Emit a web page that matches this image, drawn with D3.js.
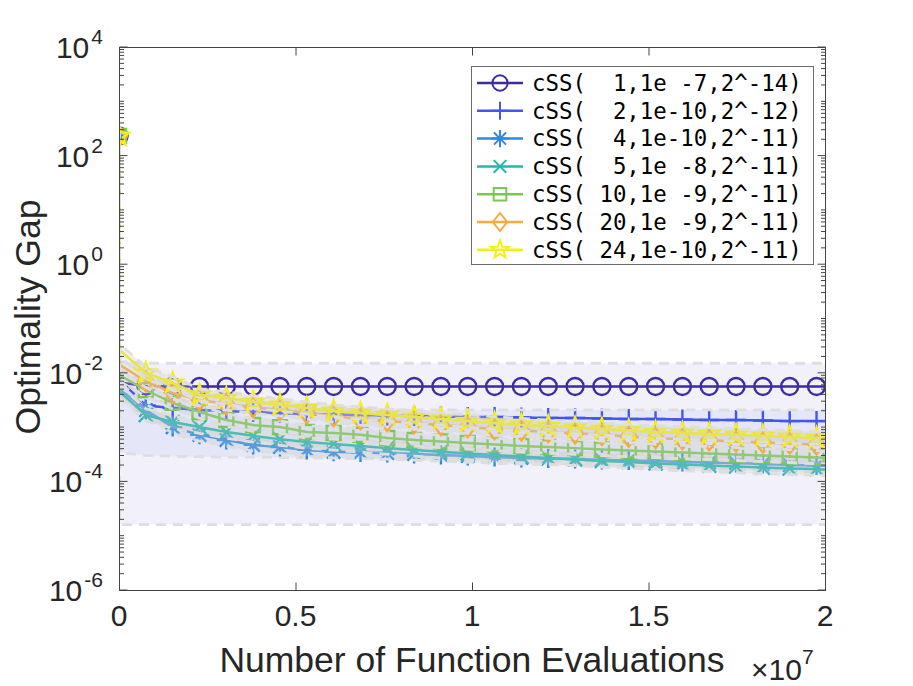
<!DOCTYPE html>
<html>
<head>
<meta charset="utf-8">
<script src="https://cdn.jsdelivr.net/npm/d3@7"></script>
<style>
  body { margin: 0; background: #fff; }
  svg { display: block; }
</style>
</head>
<body>
<svg id="chart" width="913" height="686"></svg>
<script>
// number of function evaluations at each recorded point
let evals = [0, 2e4, 7.6e5, 1.52e6, 2.28e6, 3.04e6, 3.8e6, 4.56e6, 5.32e6, 6.08e6, 6.84e6,
  7.6e6, 8.36e6, 9.12e6, 9.88e6, 1.064e7, 1.14e7, 1.216e7, 1.292e7, 1.368e7, 1.444e7,
  1.52e7, 1.596e7, 1.672e7, 1.748e7, 1.824e7, 1.9e7, 1.976e7, 2e7]

let labels = [
  'cSS(  1,1e -7,2^-14)',
  'cSS(  2,1e-10,2^-12)',
  'cSS(  4,1e-10,2^-11)',
  'cSS(  5,1e -8,2^-11)',
  'cSS( 10,1e -9,2^-11)',
  'cSS( 20,1e -9,2^-11)',
  'cSS( 24,1e-10,2^-11)'
]

// optimality gap, one array per run
let gap1 = [230, 6.6e-3, 5.7e-3, 5.6e-3, 5.6e-3, 5.6e-3, 5.6e-3, 5.6e-3, 5.6e-3, 5.6e-3, 5.6e-3,
  5.6e-3, 5.6e-3, 5.6e-3, 5.6e-3, 5.6e-3, 5.6e-3, 5.6e-3, 5.6e-3, 5.6e-3, 5.6e-3,
  5.6e-3, 5.6e-3, 5.6e-3, 5.6e-3, 5.6e-3, 5.6e-3, 5.6e-3, 5.6e-3]
let gap2 = [230, 7.4e-3, 2.5e-3, 2.25e-3, 2.07e-3, 1.98e-3, 1.9e-3, 1.82e-3, 1.74e-3, 1.7e-3, 1.67e-3,
  1.63e-3, 1.6e-3, 1.56e-3, 1.53e-3, 1.53e-3, 1.5e-3, 1.47e-3, 1.47e-3, 1.44e-3, 1.41e-3,
  1.41e-3, 1.38e-3, 1.35e-3, 1.35e-3, 1.32e-3, 1.29e-3, 1.29e-3, 1.29e-3]
let gap3 = [230, 5.0e-3, 2.07e-3, 1.0e-3, 7.2e-4, 5.8e-4, 4.7e-4, 4.3e-4, 3.8e-4, 3.5e-4, 3.4e-4,
  3.33e-4, 3.2e-4, 3.06e-4, 2.93e-4, 2.81e-4, 2.7e-4, 2.64e-4, 2.59e-4, 2.48e-4, 2.43e-4,
  2.38e-4, 2.28e-4, 2.23e-4, 2.18e-4, 2.09e-4, 2.0e-4, 1.96e-4, 1.94e-4]
let gap4 = [230, 4.5e-3, 1.67e-3, 1.24e-3, 1.0e-3, 8.1e-4, 6.9e-4, 6.0e-4, 5.3e-4, 4.9e-4, 4.5e-4,
  4.1e-4, 3.8e-4, 3.5e-4, 3.27e-4, 3.06e-4, 2.87e-4, 2.7e-4, 2.53e-4, 2.38e-4, 2.28e-4,
  2.14e-4, 2.05e-4, 1.96e-4, 1.88e-4, 1.8e-4, 1.73e-4, 1.69e-4, 1.66e-4]
let gap5 = [230, 9.0e-3, 4.8e-3, 2.8e-3, 1.9e-3, 1.35e-3, 1.09e-3, 1.0e-3, 8.1e-4, 7.8e-4, 7.2e-4,
  6.3e-4, 5.8e-4, 5.45e-4, 5.1e-4, 4.8e-4, 4.5e-4, 4.3e-4, 4.1e-4, 3.87e-4, 3.7e-4,
  3.55e-4, 3.4e-4, 3.27e-4, 3.13e-4, 3.0e-4, 2.87e-4, 2.75e-4, 2.72e-4]
let gap6 = [230, 1.4e-2, 7.0e-3, 4.25e-3, 3.16e-3, 2.67e-3, 2.34e-3, 2.07e-3, 1.82e-3, 1.6e-3, 1.41e-3,
  1.29e-3, 1.19e-3, 1.09e-3, 1.0e-3, 9.2e-4, 8.7e-4, 8.1e-4, 7.7e-4, 7.2e-4, 6.7e-4,
  6.3e-4, 6.0e-4, 5.7e-4, 5.45e-4, 5.2e-4, 5.0e-4, 4.8e-4, 4.75e-4]
let gap7 = [230, 2.6e-2, 1.0e-2, 6.5e-3, 3.9e-3, 3.44e-3, 2.9e-3, 2.55e-3, 2.25e-3, 1.98e-3, 1.82e-3,
  1.67e-3, 1.53e-3, 1.41e-3, 1.29e-3, 1.19e-3, 1.11e-3, 1.04e-3, 9.8e-4, 9.2e-4, 8.7e-4,
  8.1e-4, 7.8e-4, 7.5e-4, 7.2e-4, 6.9e-4, 6.6e-4, 6.3e-4, 6.2e-4]

// shaded spread of the first two runs (wide bands)
let band1Lo = [230, 1.6e-5, 1.6e-5, 1.6e-5, 1.6e-5, 1.6e-5, 1.6e-5, 1.6e-5, 1.6e-5, 1.6e-5, 1.6e-5,
  1.6e-5, 1.6e-5, 1.6e-5, 1.6e-5, 1.6e-5, 1.6e-5, 1.6e-5, 1.6e-5, 1.6e-5, 1.6e-5,
  1.6e-5, 1.6e-5, 1.6e-5, 1.6e-5, 1.6e-5, 1.6e-5, 1.6e-5, 1.6e-5]
let band1Hi = [230, 1.6e-2, 1.5e-2, 1.5e-2, 1.5e-2, 1.5e-2, 1.5e-2, 1.5e-2, 1.5e-2, 1.5e-2, 1.5e-2,
  1.5e-2, 1.5e-2, 1.5e-2, 1.5e-2, 1.5e-2, 1.5e-2, 1.5e-2, 1.5e-2, 1.5e-2, 1.5e-2,
  1.5e-2, 1.5e-2, 1.5e-2, 1.5e-2, 1.5e-2, 1.5e-2, 1.5e-2, 1.5e-2]
let band2Lo = [230, 3.4e-4, 3.0e-4, 2.9e-4, 2.85e-4, 2.8e-4, 2.8e-4, 2.75e-4, 2.7e-4, 2.7e-4, 2.65e-4,
  2.6e-4, 2.6e-4, 2.55e-4, 2.5e-4, 2.5e-4, 2.45e-4, 2.4e-4, 2.4e-4, 2.35e-4, 2.35e-4,
  2.3e-4, 2.3e-4, 2.25e-4, 2.25e-4, 2.2e-4, 2.2e-4, 2.2e-4, 2.2e-4]
let band2Hi = [230, 7.5e-3, 3.4e-3, 2.7e-3, 2.4e-3, 2.25e-3, 2.2e-3, 2.15e-3, 2.1e-3, 2.1e-3, 2.1e-3,
  2.07e-3, 2.07e-3, 2.07e-3, 2.07e-3, 2.07e-3, 2.07e-3, 2.07e-3, 2.07e-3, 2.07e-3, 2.07e-3,
  2.07e-3, 2.07e-3, 2.07e-3, 2.07e-3, 2.07e-3, 2.07e-3, 2.07e-3, 2.07e-3]
// the other runs only get a thin band: factor above / below the mean
let bandSpread = [null, null, 1.3, 1.3, 1.3, 1.3, 1.3]

let yTicks = [1e-6, 1e-4, 1e-2, 1e0, 1e2, 1e4]
let xTicks = [0, 0.5e7, 1e7, 1.5e7, 2e7]
let xTickLabels = ['0', '0.5', '1', '1.5', '2']

let colors = ['#3e2ba6', '#4356ee', '#2b8ae6', '#21b6ae', '#7ac853', '#f7aa3d', '#f4ef18']
let markers = ['o', '+', '*', 'x', 's', 'd', 'p']

let margin = { top: 47, left: 119, right: 88, bottom: 96 }
let width = 913 - margin.left - margin.right
let height = 686 - margin.top - margin.bottom

let svg = d3.select('#chart')
let holder = svg.append('g')
  .attr('transform', `translate(${margin.left},${margin.top})`)

let xScale = d3.scaleLinear().domain([0, 2e7]).range([0, width])
let yScale = d3.scaleLog().domain([1e-6, 1e4]).range([height, 0])

let runs = [gap1, gap2, gap3, gap4, gap5, gap6, gap7]
let bandsLo = [band1Lo, band2Lo]
let bandsHi = [band1Hi, band2Hi]

function markerPath(type) {
  if (type === 'o') return 'M8.5,0A8.5,8.5 0 1,1 -8.5,0A8.5,8.5 0 1,1 8.5,0Z'
  if (type === '+') return 'M-10,0H10M0,-10V10'
  if (type === '*') return 'M-9.5,0H9.5M0,-9.5V9.5M-6.7,-6.7L6.7,6.7M-6.7,6.7L6.7,-6.7'
  if (type === 'x') return 'M-7,-7L7,7M-7,7L7,-7'
  if (type === 's') return 'M-7,-7H7V7H-7Z'
  if (type === 'd') return 'M0,-10L8,0L0,10L-8,0Z'
  // pentagram
  let pts = d3.range(10).map(i => {
    let r = i % 2 === 0 ? 10.5 : 4.3
    let a = -Math.PI / 2 + i * Math.PI / 5
    return [r * Math.cos(a), r * Math.sin(a)]
  })
  return 'M' + pts.map(p => p.join(',')).join('L') + 'Z'
}

svg.append('clipPath').attr('id', 'plot-clip')
  .append('rect').attr('x', 0).attr('y', 0).attr('width', width).attr('height', height)

let plot = holder.append('g').attr('clip-path', 'url(#plot-clip)')

let line = d3.line()
  .x((d, i) => xScale(evals[i]))
  .y(d => yScale(d))

let area = d3.area()
  .x(d => xScale(d.x))
  .y0(d => yScale(d.lo))
  .y1(d => yScale(d.hi))

runs.forEach((run, s) => {
  let lo, hi
  if (s < 2) {
    lo = bandsLo[s]
    hi = bandsHi[s]
  } else {
    lo = run.map(v => v / bandSpread[s])
    hi = run.map(v => v * bandSpread[s])
  }
  let band = evals.map((x, i) => ({ x: x, lo: lo[i], hi: hi[i] }))

  let series = plot.append('g').attr('class', 'run')

  series.append('path')
    .datum(run)
    .attr('d', line)
    .attr('fill', 'none')
    .attr('stroke', colors[s])
    .attr('stroke-width', 2.5)

  // markers on every sample except the tiny first step and the end point
  series.selectAll('.marker')
    .data(run.map((v, i) => ({ x: evals[i], y: v, i: i })).filter(d => d.i !== 1 && d.i !== evals.length - 1))
    .enter().append('path')
    .attr('class', 'marker')
    .attr('d', markerPath(markers[s]))
    .attr('transform', d => `translate(${xScale(d.x)},${yScale(d.y)})`)
    .attr('fill', 'none')
    .attr('stroke', colors[s])
    .attr('stroke-width', 2.4)

  series.append('path')
    .datum(band)
    .attr('d', area)
    .attr('fill', s < 2 ? colors[s] : '#c8c8c8')
    .attr('fill-opacity', s < 2 ? 0.065 : 0.28)
    .attr('stroke', 'none')

  let edge = d3.line().x((d, i) => xScale(evals[i])).y(d => yScale(d))
  ;[lo, hi].forEach(b => {
    series.append('path')
      .datum(b)
      .attr('d', edge)
      .attr('fill', 'none')
      .attr('stroke', '#dedede')
      .attr('stroke-width', 2.8)
      .attr('stroke-dasharray', '10,7')
  })
})

// axes box
let frame = holder.append('g').attr('stroke', '#444').attr('stroke-width', 1).attr('fill', 'none')
frame.append('rect').attr('x', 0.5).attr('y', 0.5).attr('width', width).attr('height', height)

// y ticks, major and minor, on both sides
let minorY = []
d3.range(-6, 4).forEach(e => {
  d3.range(1, 10).forEach(m => {
    let v = m * Math.pow(10, e)
    if (!yTicks.some(t => Math.abs(t - v) / t < 1e-9)) minorY.push(v)
  })
})
;[0, width].forEach(x0 => {
  let dir = x0 === 0 ? 1 : -1
  frame.selectAll(null)
    .data(yTicks)
    .enter().append('line')
    .attr('x1', x0 + 0.5).attr('x2', x0 + 0.5 + dir * 8)
    .attr('y1', d => yScale(d)).attr('y2', d => yScale(d))
  frame.selectAll(null)
    .data(minorY)
    .enter().append('line')
    .attr('x1', x0 + 0.5).attr('x2', x0 + 0.5 + dir * 4.5)
    .attr('y1', d => yScale(d)).attr('y2', d => yScale(d))
})

// x ticks on bottom and top
;[0, height].forEach(y0 => {
  let dir = y0 === 0 ? 1 : -1
  frame.selectAll(null)
    .data(xTicks)
    .enter().append('line')
    .attr('x1', d => xScale(d) + 0.5).attr('x2', d => xScale(d) + 0.5)
    .attr('y1', y0 + 0.5).attr('y2', y0 + 0.5 + dir * 8)
})

let font = 'Helvetica, "Liberation Sans", Arial, sans-serif'

holder.selectAll('.ytick-label')
  .data(yTicks)
  .enter().append('text')
  .attr('class', 'ytick-label')
  .attr('font-family', font)
  .attr('font-size', 30)
  .attr('fill', '#262626')
  .attr('text-anchor', 'end')
  .attr('x', -16)
  .attr('y', d => yScale(d) + 11)
  .each(function(d) {
    let t = d3.select(this)
    t.append('tspan').text('10')
    t.append('tspan')
      .attr('dx', 2)
      .attr('dy', -14)
      .attr('font-size', 21)
      .text(Math.round(Math.log10(d)))
  })

holder.selectAll('.xtick-label')
  .data(xTicks)
  .enter().append('text')
  .attr('class', 'xtick-label')
  .attr('font-family', font)
  .attr('font-size', 30)
  .attr('fill', '#262626')
  .attr('text-anchor', 'middle')
  .attr('x', (d, i) => xScale(d))
  .attr('y', height + 36)
  .text((d, i) => xTickLabels[i])

holder.append('text')
  .attr('font-family', font)
  .attr('font-size', 35.5)
  .attr('fill', '#262626')
  .attr('text-anchor', 'middle')
  .attr('x', width / 2)
  .attr('y', height + 82)
  .text('Number of Function Evaluations')

let exp = holder.append('text')
  .attr('font-family', font)
  .attr('font-size', 30)
  .attr('fill', '#262626')
  .attr('x', 632)
  .attr('y', height + 90)
exp.append('tspan').text('\u00d710')
exp.append('tspan').attr('dy', -16).attr('font-size', 21).text('7')

svg.append('text')
  .attr('font-family', font)
  .attr('font-size', 35.5)
  .attr('fill', '#262626')
  .attr('text-anchor', 'middle')
  .attr('transform', 'translate(40,317) rotate(-90)')
  .text('Optimality Gap')

// legend
let legend = svg.append('g').attr('transform', 'translate(471,66)')
legend.append('rect')
  .attr('x', 0.5).attr('y', 0.5)
  .attr('width', 342).attr('height', 198)
  .attr('fill', '#fff')
  .attr('stroke', '#6b6b6b')
  .attr('stroke-width', 1)

let rows = legend.selectAll('.legend-row')
  .data(labels)
  .enter().append('g')
  .attr('class', 'legend-row')
  .attr('transform', (d, i) => `translate(0,${17 + i * 27.8})`)

rows.append('line')
  .attr('x1', 6).attr('x2', 52)
  .attr('stroke', (d, i) => colors[i])
  .attr('stroke-width', 2.5)
rows.append('path')
  .attr('d', (d, i) => markerPath(markers[i]))
  .attr('transform', 'translate(29,0) scale(0.9)')
  .attr('fill', 'none')
  .attr('stroke', (d, i) => colors[i])
  .attr('stroke-width', 2.2)
rows.append('text')
  .attr('x', 61)
  .attr('dy', '0.35em')
  .attr('font-family', '"DejaVu Sans Mono", monospace')
  .attr('font-size', 22.4)
  .attr('fill', '#000')
  .attr('xml:space', 'preserve')
  .style('white-space', 'pre')
  .text(d => d)
</script>
</body>
</html>
